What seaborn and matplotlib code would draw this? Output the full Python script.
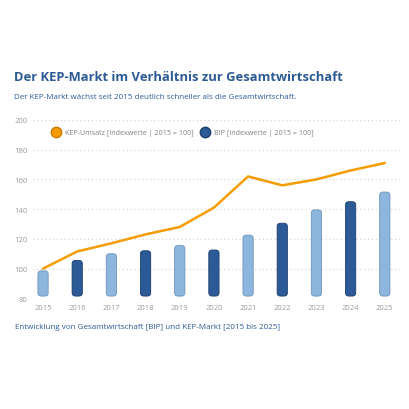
import matplotlib
matplotlib.use('Agg')
import matplotlib.pyplot as plt
import seaborn as sns
import numpy as np
import pandas as pd
from matplotlib.patches import FancyBboxPatch
from matplotlib.lines import Line2D

years = ['2015', '2016', '2017', '2018', '2019', '2020', '2021', '2022', '2023', '2024', '2025']
bip = [100, 107, 111.5, 113.5, 117, 114, 124, 132, 141, 146.5, 153]
kep = [100, 111.5, 117, 123, 128, 141, 162, 156, 160, 166, 171]

light_blue = '#8db6de'
dark_blue = '#2b5a96'
orange = '#f59c00'
title_blue = '#2c5b94'

sns.set_theme(style="white")
plt.rcParams['font.family'] = ['Open Sans', 'DejaVu Sans']

df = pd.DataFrame({'year': years, 'bip': bip, 'kep': kep})
bar_colors = [light_blue if i % 2 == 0 else dark_blue for i in range(len(years))]
edge_colors = ['#6e94bb' if i % 2 == 0 else '#1c3f6e' for i in range(len(years))]

fig = plt.figure(figsize=(4.1, 4.1), dpi=100)
ax = fig.add_axes([0.08, 0.27, 0.896, 0.435])

sns.barplot(data=df, x='year', y='bip', hue='year', palette=bar_colors,
            width=0.3, legend=False, ax=ax)

# swap the plain bars for rounded ones
ylo = 80
for p, c, ec in zip(list(ax.patches), bar_colors, edge_colors):
    x0, w, h = p.get_x(), p.get_width(), p.get_height()
    p.remove()
    fb = FancyBboxPatch((x0, ylo + 1.5), w, h - ylo - 3,
                        boxstyle="round,pad=0,rounding_size=0.1",
                        mutation_aspect=22, facecolor=c, edgecolor=ec,
                        linewidth=0.6, zorder=3)
    ax.add_patch(fb)

ax.plot(range(len(years)), kep, color=orange, lw=1.8, zorder=4)

ax.set_ylim(80, 200)
ax.set_xlim(-0.3, 10.45)
ax.set_yticks([80, 100, 120, 140, 160, 180, 200])
ax.yaxis.grid(True, linestyle=(0, (1, 2.5)), color='#d2d2d2', lw=0.8)
ax.set_axisbelow(True)
for s in ax.spines.values():
    s.set_visible(False)
ax.tick_params(axis='both', labelsize=5.5, colors='#9a9a9a', length=0, pad=4)
ax.set_xlabel('')
ax.set_ylabel('')

handles = [Line2D([], [], marker='o', color='none', markerfacecolor=orange,
                  markeredgecolor='#c87d00', markersize=7.5),
           Line2D([], [], marker='o', color='none', markerfacecolor=dark_blue,
                  markeredgecolor='#1c3f6e', markersize=7.5)]
ax.legend(handles, ['KEP-Umsatz [Indexwerte | 2015 = 100]', 'BIP [Indexwerte | 2015 = 100]'],
          ncol=2, frameon=False, loc='upper left', bbox_to_anchor=(0.035, 0.985),
          fontsize=5.1, labelcolor='#808080', handletextpad=0.7, columnspacing=0.9,
          handlelength=1.2)

fig.text(0.034, 0.81, 'Der KEP-Markt im Verhältnis zur Gesamtwirtschaft',
         fontsize=9.4, fontweight='bold', color=title_blue, va='center')
fig.text(0.034, 0.762, 'Der KEP-Markt wächst seit 2015 deutlich schneller als die Gesamtwirtschaft.',
         fontsize=5.8, color=title_blue, va='center')
fig.text(0.036, 0.2, 'Entwicklung von Gesamtwirtschaft [BIP] und KEP-Markt [2015 bis 2025]',
         fontsize=5.8, color=title_blue, va='center')

fig.savefig('out.png', dpi=100)
